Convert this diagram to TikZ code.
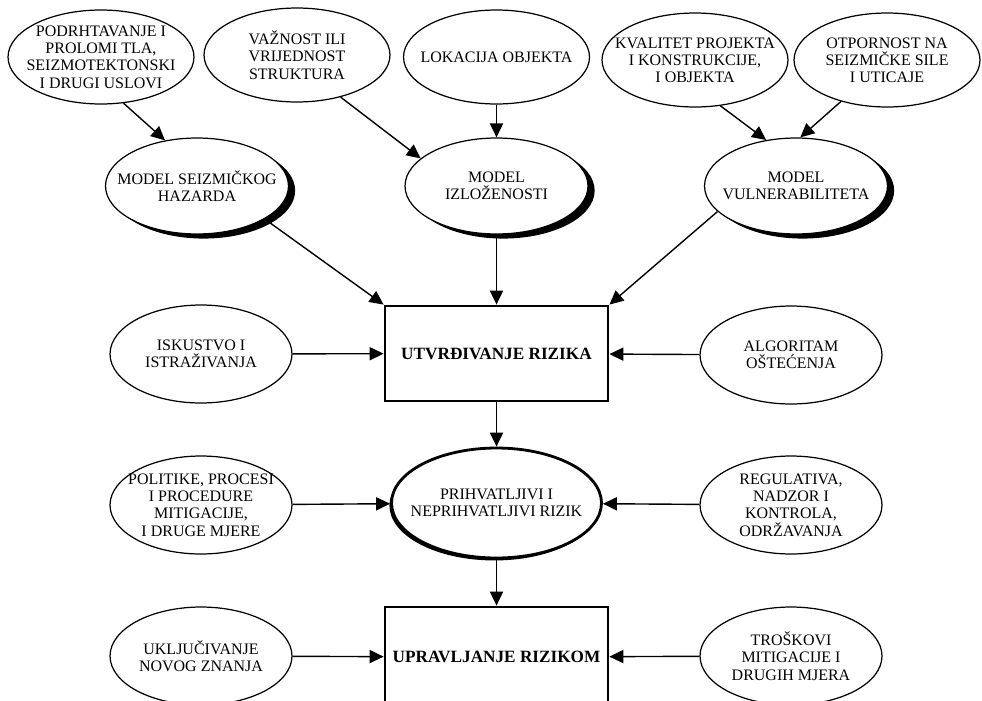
\documentclass[tikz,border=0pt]{standalone}
\usepackage{fontspec}
\setmainfont{Liberation Serif}
\usetikzlibrary{arrows.meta,shapes.geometric,shadows}

\begin{document}
\begin{tikzpicture}[x=0.02cm,y=-0.02cm]
  \tikzset{
    src/.style={ellipse, draw=black, line width=0.7pt, fill=white, minimum width=3.72cm, minimum height=1.88cm, inner xsep=-9pt, inner ysep=-3pt, align=center, font=\fontsize{9.1}{9.8}\selectfont},
    model/.style={src, minimum width=3.66cm, minimum height=1.92cm, general shadow={fill=black, shadow xshift=3.8pt, shadow yshift=-2.6pt}},
    side/.style={src, minimum width=3.64cm, minimum height=1.96cm},
    accept/.style={src, line width=1.6pt, minimum width=4.2cm, minimum height=2.2cm, general shadow={fill=black, shadow xshift=-1.2pt, shadow yshift=-1.4pt}},
    stage/.style={draw=black, line width=1.6pt, fill=white, minimum width=4.46cm, minimum height=1.9cm, font=\fontsize{9.8}{11}\selectfont\bfseries},
    arr/.style={-{Triangle[length=8pt,width=7.5pt]}, line width=0.8pt}
  }

  % page = 982 x 700 px
  \clip (0,0) rectangle (982,700);

  % column x positions
  \def\xL{201}
  \def\xM{496.5}
  \def\xR{791}

  % ================= INPUTS =================
  \node[src] (uslovi) at (101,57) {PODRHTAVANJE I\\PROLOMI TLA,\\SEIZMOTEKTONSKI\\I DRUGI USLOVI};
  \node[src] (vaznost) at (297,55) {VAŽNOST ILI\\VRIJEDNOST\\STRUKTURA};
  \node[src] (lokacija) at (\xM,57) {LOKACIJA OBJEKTA};
  \node[src] (kvalitet) at (695,60) {KVALITET PROJEKTA\\I KONSTRUKCIJE,\\I OBJEKTA};
  \node[src] (otpornost) at (887,60) {OTPORNOST NA\\SEIZMIČKE SILE\\I UTICAJE};

  % ================= MODELS =================
  \node[model] (hazard) at (197,186) {MODEL SEIZMIČKOG\\HAZARDA};
  \node[model] (expo) at (\xM,186) {MODEL\\IZLOŽENOSTI};
  \node[model] (vuln) at (796,186) {MODEL\\VULNERABILITETA};

  % ================= RISK =================
  \node[stage] (risk) at (\xM,353.5) {UTVRĐIVANJE RIZIKA};
  \node[side] (iskustvo) at (\xL,354) {ISKUSTVO I\\ISTRAŽIVANJA};
  \node[side] (algoritam) at (\xR,355) {ALGORITAM\\OŠTEĆENJA};

  \node[accept] (accept) at (\xM,503) {PRIHVATLJIVI I\\NEPRIHVATLJIVI RIZIK};
  \node[side] (politike) at (\xL,505) {POLITIKE, PROCESI\\I PROCEDURE\\MITIGACIJE,\\I DRUGE MJERE};
  \node[side] (regulativa) at (\xR,505) {REGULATIVA,\\NADZOR I\\KONTROLA,\\ODRŽAVANJA};

  \node[stage, minimum height=2cm] (manage) at (\xM,657) {UPRAVLJANJE RIZIKOM};
  \node[side] (znanje) at (\xL,656) {UKLJUČIVANJE\\NOVOG ZNANJA};
  \node[side] (troskovi) at (\xR,656) {TROŠKOVI\\MITIGACIJE I\\DRUGIH MJERA};

  % ================= ARROWS =================
  \draw[arr] (uslovi.-64) -- (hazard.125);
  \draw[arr] (vaznost.-44) -- (expo.160);
  \draw[arr] (lokacija) -- (expo);
  \draw[arr] (kvalitet.-61) -- (vuln.123);
  \draw[arr] (otpornost.-138) -- (vuln.85);

  \draw[arr] (hazard.-26) -- (risk.north west);
  \draw[arr] (expo) -- (risk);
  \draw[arr] (vuln.-162) -- (risk.north east);
  \draw[arr] (iskustvo) -- (risk);
  \draw[arr] (algoritam) -- (risk);

  \draw[arr] (risk) -- (accept);
  \draw[arr] (politike) -- (accept);
  \draw[arr] (regulativa) -- (accept);

  \draw[arr] (accept) -- (manage);
  \draw[arr] (znanje) -- (manage);
  \draw[arr] (troskovi) -- (manage);

\end{tikzpicture}
\end{document}
